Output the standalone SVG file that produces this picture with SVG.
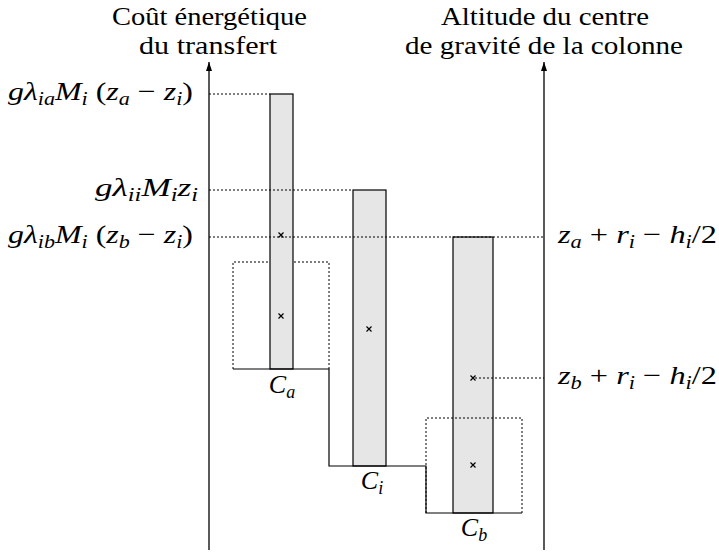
<svg xmlns="http://www.w3.org/2000/svg" width="719" height="553" viewBox="0 0 719 553">
<style>
text{font-family:"Liberation Serif","Times New Roman",Times,"Tinos","DejaVu Serif","Noto Serif",serif;font-size:26px;fill:#000}
.i{font-style:italic}
.s{font-size:18px;font-style:italic}
.axis{stroke:#000;stroke-width:1.3;fill:none}
.col{fill:#e6e6e6;stroke:#000;stroke-width:1.2}
.dot{stroke:#000;stroke-width:1;stroke-dasharray:2 2;fill:none}
.solid{stroke:#000;stroke-width:1.2;fill:none}
.cross{stroke:#000;stroke-width:1.2;fill:none}
</style>
<defs>
<marker id="arr" markerUnits="userSpaceOnUse" markerWidth="10" markerHeight="8" refX="9" refY="3" orient="auto">
<path d="M0,0 L9,3 L0,6 z" fill="#000"/>
</marker>
</defs>

<g id="title-left">
<text x="209.5" y="25" text-anchor="middle" textLength="195" lengthAdjust="spacingAndGlyphs">Coût énergétique</text>
<text x="208" y="54" text-anchor="middle" textLength="138" lengthAdjust="spacingAndGlyphs">du transfert</text>
</g>
<g id="title-right">
<text x="545" y="25" text-anchor="middle" textLength="208" lengthAdjust="spacingAndGlyphs">Altitude du centre</text>
<text x="544" y="54" text-anchor="middle" textLength="278" lengthAdjust="spacingAndGlyphs">de gravité de la colonne</text>
</g>

<g id="boxA-dotted">
<path class="dot" d="M233,369 V262 H329 V369"/>
</g>

<g id="columns">
<g id="col-a"><rect class="col" x="270" y="94" width="23" height="275"/></g>
<g id="col-i"><rect class="col" x="353" y="190" width="33" height="276"/></g>
<g id="col-b"><rect class="col" x="453" y="237" width="40" height="276"/></g>
</g>

<g id="boxB-dotted">
<path class="dot" d="M426,513 V418 H522 V513"/>
</g>

<g id="connectors">
<line class="axis" x1="209" y1="550" x2="209" y2="62" marker-end="url(#arr)"/>
<line class="axis" x1="544" y1="550" x2="544" y2="62" marker-end="url(#arr)"/>
<path class="solid" d="M233,369 H329 V466 H426 V513 H522"/>
<line class="dot" x1="209" y1="94" x2="270" y2="94"/>
<line class="dot" x1="209" y1="190" x2="353" y2="190"/>
<line class="dot" x1="209" y1="237" x2="544" y2="237"/>
<line class="dot" x1="475" y1="378" x2="544" y2="378"/>
</g>

<g id="crosses">
<path class="cross" d="M278.5,232.5 l5,5 m0,-5 l-5,5"/>
<path class="cross" d="M278.5,313.5 l5,5 m0,-5 l-5,5"/>
<path class="cross" d="M366.5,326.5 l5,5 m0,-5 l-5,5"/>
<path class="cross" d="M470.5,375.5 l5,5 m0,-5 l-5,5"/>
<path class="cross" d="M470.5,462.5 l5,5 m0,-5 l-5,5"/>
</g>

<g id="labels-left">
<text x="193" y="100" text-anchor="end" textLength="185" lengthAdjust="spacingAndGlyphs"><tspan class="i">gλ</tspan><tspan class="s" dy="5">ia</tspan><tspan class="i" dy="-5">M</tspan><tspan class="s" dy="5">i</tspan><tspan dy="-5"> (</tspan><tspan class="i">z</tspan><tspan class="s" dy="5">a</tspan><tspan dy="-5"> − </tspan><tspan class="i">z</tspan><tspan class="s" dy="5">i</tspan><tspan dy="-5">)</tspan></text>
<text x="198" y="196" text-anchor="end" textLength="103" lengthAdjust="spacingAndGlyphs"><tspan class="i">gλ</tspan><tspan class="s" dy="5">ii</tspan><tspan class="i" dy="-5">M</tspan><tspan class="s" dy="5">i</tspan><tspan class="i" dy="-5">z</tspan><tspan class="s" dy="5">i</tspan></text>
<text x="193" y="243" text-anchor="end" textLength="185" lengthAdjust="spacingAndGlyphs"><tspan class="i">gλ</tspan><tspan class="s" dy="5">ib</tspan><tspan class="i" dy="-5">M</tspan><tspan class="s" dy="5">i</tspan><tspan dy="-5"> (</tspan><tspan class="i">z</tspan><tspan class="s" dy="5">b</tspan><tspan dy="-5"> − </tspan><tspan class="i">z</tspan><tspan class="s" dy="5">i</tspan><tspan dy="-5">)</tspan></text>
</g>

<g id="labels-right">
<text x="558" y="243" textLength="159" lengthAdjust="spacingAndGlyphs"><tspan class="i">z</tspan><tspan class="s" dy="5">a</tspan><tspan dy="-5"> + </tspan><tspan class="i">r</tspan><tspan class="s" dy="5">i</tspan><tspan dy="-5"> − </tspan><tspan class="i">h</tspan><tspan class="s" dy="5">i</tspan><tspan dy="-5">/2</tspan></text>
<text x="558" y="384" textLength="159" lengthAdjust="spacingAndGlyphs"><tspan class="i">z</tspan><tspan class="s" dy="5">b</tspan><tspan dy="-5"> + </tspan><tspan class="i">r</tspan><tspan class="s" dy="5">i</tspan><tspan dy="-5"> − </tspan><tspan class="i">h</tspan><tspan class="s" dy="5">i</tspan><tspan dy="-5">/2</tspan></text>
</g>

<g id="label-Ca"><text x="282" y="393" text-anchor="middle"><tspan class="i">C</tspan><tspan class="s" dy="5">a</tspan></text></g>
<g id="label-Ci"><text x="372" y="489" text-anchor="middle"><tspan class="i">C</tspan><tspan class="s" dy="5">i</tspan></text></g>
<g id="label-Cb"><text x="474" y="536" text-anchor="middle"><tspan class="i">C</tspan><tspan class="s" dy="5">b</tspan></text></g>
</svg>
